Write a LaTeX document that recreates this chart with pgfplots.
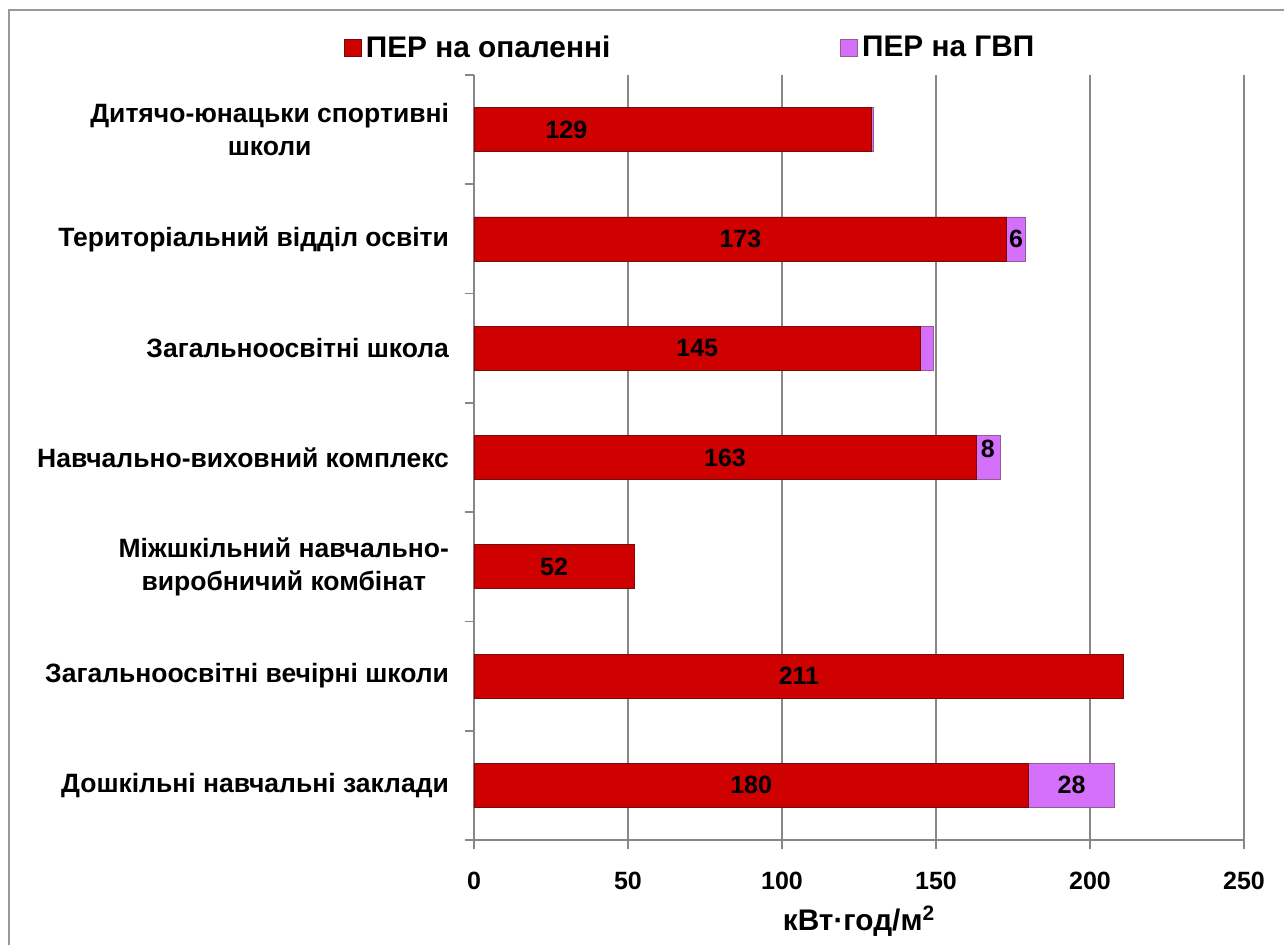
\documentclass[border=0pt]{standalone}
\usepackage{pgfplots}
\pgfplotsset{compat=1.18}
\usepackage{fontspec}
\setmainfont{Liberation Sans}
\definecolor{heat}{RGB}{206,0,0}
\definecolor{heatdark}{RGB}{120,10,10}
\definecolor{hw}{RGB}{212,112,250}
\definecolor{hwdark}{RGB}{150,90,150}
\definecolor{gridgray}{RGB}{135,135,135}
\newcommand\lf{\bfseries\fontsize{12.5}{16.5}\selectfont}
\newcommand\cf{\bfseries\fontsize{13.25}{16.5}\selectfont}
\newcommand\gf{\bfseries\fontsize{14.9}{17}\selectfont}
\begin{document}
\begin{tikzpicture}[x=1pt,y=1pt]
\useasboundingbox (-237,-52) rectangle (405,420);
\draw[gray!80, line width=1pt] (-232.5,-60) -- (-232.5,415) -- (410,415);
\begin{axis}[
  at={(0,0)}, anchor=south west,
  scale only axis, width=385pt, height=382.5pt,
  xmin=0, xmax=250, ymin=-0.5, ymax=6.5,
  axis x line=bottom, axis y line=left,
  axis line style={gridgray, line width=0.9pt, -},
  xtick={0,50,...,250},
  xmajorgrids, grid style={gridgray, line width=0.8pt},
  ytick={-0.5,0.5,...,6.5}, yticklabels={},
  extra y ticks={0,1,2,3,4,5,6},
  extra y tick labels={{Дошкільні навчальні заклади},{Загальноосвітні вечірні школи},{Міжшкільний навчально-\\виробничий комбінат},{Навчально-виховний комплекс},{Загальноосвітні школа},{Територіальний відділ освіти},{Дитячо-юнацьки спортивні\\школи}},
  extra y tick style={major tick length=0pt, grid=none},
  tick align=outside, major tick length=4.5pt,
  tick style={gridgray, line width=0.8pt},
  yticklabel style={align=center, font=\cf, xshift=-9pt},
  xticklabel style={font=\lf, yshift=-8pt},
  /pgf/number format/assume math mode=true,
  xlabel={кВт·год/м\textsuperscript{2}},
  x label style={at={(axis description cs:0.5,-0.106)}, anchor=center, font=\gf},
  legend style={draw=none, fill=none, legend columns=2, at={(axis description cs:0.282,1.0353)}, anchor=center, font=\gf, /tikz/every even column/.append style={column sep=113pt}},
  legend image code/.code={\draw[#1] (0pt,-4.25pt) rectangle (8.5pt,4.25pt);},
  every node near coord/.append style={font=\lf, anchor=center, text=black},
]
\addlegendimage{fill=heat, draw=heatdark}
\addlegendentry{ПЕР на опаленні}
\addlegendimage{fill=hw, draw=hwdark}
\addlegendentry{ПЕР на ГВП}
% total (heating + hot water)
\addplot[xbar, bar width=22pt, bar shift=0pt, fill=hw, draw=hwdark, forget plot]
  coordinates {(208,0) (211,1) (52,2) (171,3) (149,4) (179,5) (129.6,6)};
% heating
\addplot[xbar, bar width=22pt, bar shift=0pt, fill=heat, draw=heatdark, forget plot]
  coordinates {(180,0) (211,1) (52,2) (163,3) (145,4) (173,5) (129,6)};
% value labels
\addplot[only marks, mark=none, nodes near coords, point meta=explicit symbolic, forget plot]
  coordinates {(90,0)[180] (105.5,1)[211] (26,2)[52] (81.5,3)[163] (72.5,4)[145] (86.5,5)[173] (30,6)[129] (194,0)[28] (176,5)[6]};
\addplot[only marks, mark=none, nodes near coords, point meta=explicit symbolic, forget plot]
  coordinates {(166.8,3.08)[8]};
\end{axis}
\end{tikzpicture}
\end{document}
